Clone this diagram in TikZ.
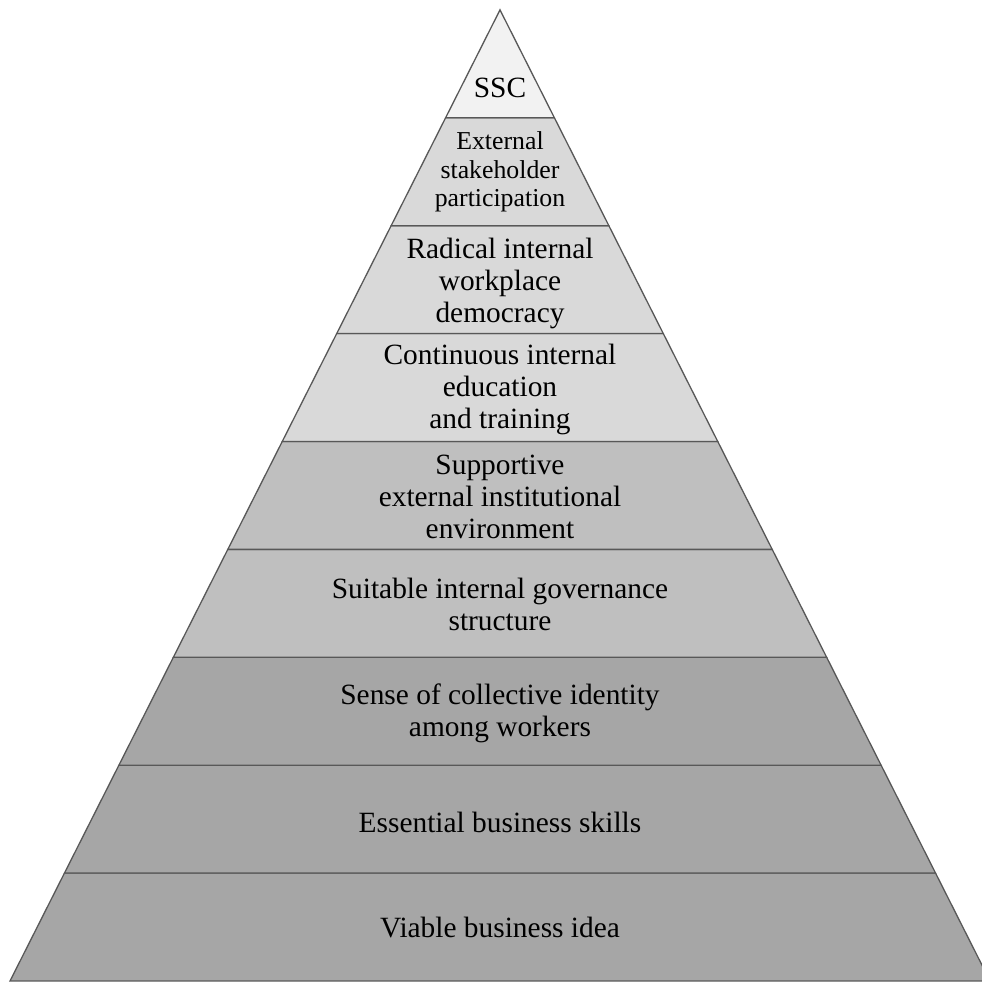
\documentclass[tikz,border=0pt]{standalone}
\usepackage{fontspec}
\setmainfont{Liberation Serif}
\definecolor{tierA}{HTML}{A6A6A6}
\definecolor{tierB}{HTML}{BFBFBF}
\definecolor{tierC}{HTML}{D9D9D9}
\definecolor{tierD}{HTML}{F2F2F2}
\definecolor{edge}{HTML}{585858}
\begin{document}
\begin{tikzpicture}[x=1pt,y=1pt,
  tier/.style={draw=edge, line width=1.3pt, line join=miter},
  lbl/.style={align=center, text=black, inner sep=0pt,
    font=\fontsize{29.4}{32}\selectfont},
  lblsmall/.style={lbl, font=\fontsize{25.8}{28.5}\selectfont}]
\useasboundingbox (0,0) rectangle (982,983);
\clip (0,0) rectangle (982,983);
% pyramid: apex (500,973), base at y=2 with half-width 490, nine equal tiers
\foreach \k/\col in {0/tierA,1/tierA,2/tierA,3/tierB,4/tierB,5/tierC,6/tierC,7/tierC,8/tierD} {
  \pgfmathsetmacro\ylo{2+107.9*\k}
  \pgfmathsetmacro\yhi{2+107.9*(\k+1)}
  \pgfmathsetmacro\wlo{0.50463*(973-\ylo)}
  \pgfmathsetmacro\whi{max(0,0.50463*(973-\yhi))}
  \filldraw[tier, fill=\col] (500-\wlo,\ylo) -- (500+\wlo,\ylo)
    -- (500+\whi,\yhi) -- (500-\whi,\yhi) -- cycle;
}
\node[lbl] (ssc) at (500,895) {SSC};
\node[lblsmall] (ext) at (500,811) {External\\stakeholder\\participation};
\node[lbl] (rad) at (500,700) {Radical internal\\workplace\\democracy};
\node[lbl] (cont) at (500,594) {Continuous internal\\education\\and training};
\node[lbl] (supp) at (500,486) {Supportive\\external institutional\\environment};
\node[lbl] (suit) at (500,379) {Suitable internal governance\\structure};
\node[lbl] (sense) at (500,270) {Sense of collective identity\\among workers};
\node[lbl] (ess) at (500,161) {Essential business skills};
\node[lbl] (viable) at (500,55) {Viable business idea};
\end{tikzpicture}
\end{document}
